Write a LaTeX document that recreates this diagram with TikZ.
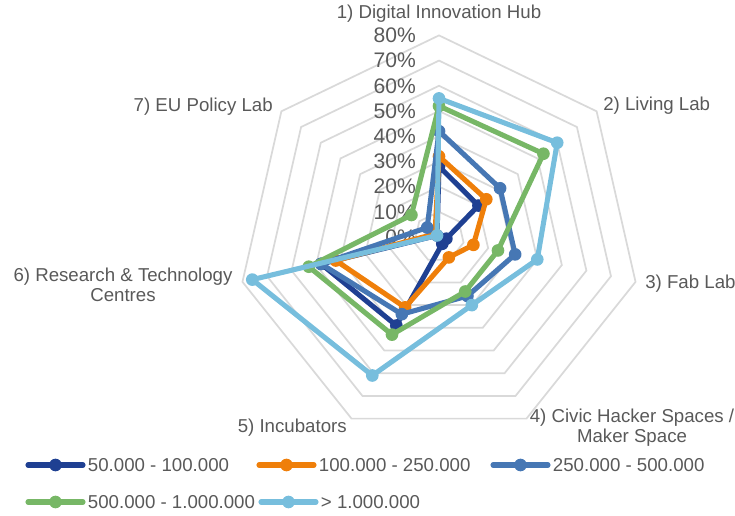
\documentclass[tikz,border=0pt]{standalone}
\usepackage{fontspec}
\setmainfont{Liberation Sans}
\usepackage{xcolor}
\usetikzlibrary{positioning}
\definecolor{gridgray}{RGB}{217,217,217}
\definecolor{txtgray}{RGB}{89,89,89}
\definecolor{serA}{RGB}{31,64,146}
\definecolor{serB}{RGB}{239,127,10}
\definecolor{serC}{RGB}{70,119,180}
\definecolor{serD}{RGB}{119,183,102}
\definecolor{serE}{RGB}{119,190,221}
\tikzset{ring/.style={draw=gridgray,line width=1.3pt},
  series/.style={line width=3.8pt,line join=round,line cap=round},
  dot/.style={circle,fill=#1,inner sep=0pt,minimum size=9.5pt},
  axlabel/.style={text=txtgray,font=\fontsize{14}{15}\selectfont,inner sep=0pt,align=center},
  ticklabel/.style={text=txtgray,font=\fontsize{15.8}{18}\selectfont,inner sep=0pt,anchor=east},
  legtext/.style={text=txtgray,font=\fontsize{14}{16}\selectfont,inner sep=0pt,anchor=west}}

\begin{document}
\begin{tikzpicture}[x=0.75pt,y=0.75pt]
    \useasboundingbox (0,0) rectangle (735,515);

    \begin{scope}[shift={(439,278)}]
    % rings
    \foreach \r in {1,...,8}
        \draw[ring] (90:{\r*25.2}) \foreach \k in {1,...,6}{ -- ({90-\k*360/7}:{\r*25.2}) } -- cycle;

    % scale
    \foreach \t [evaluate=\t as \pc using int(\t*10)] in {0,...,8}
        \node[ticklabel] (tick\t) at (-23,{\t*25.2}) {\pc\%};

    % series
    \foreach \c/\s/\vals in {serA/a/{28,20,3,3,39,48,1},
                             serB/b/{32,24,14,9,31,42,2},
                             serC/c/{42,31,31,26,34,48,6},
                             serD/d/{52,53,24,24,43,53,14},
                             serE/e/{55,60,40,30,61,76,1}}{
        \foreach \v [count=\k] in \vals
            \coordinate (\s\k) at ({90-(\k-1)*360/7}:{\v*2.52});
        \draw[series,\c] (\s1) -- (\s2) -- (\s3) -- (\s4) -- (\s5) -- (\s6) -- (\s7) -- cycle;
        \foreach \k in {1,...,7}
            \node[dot=\c] (m\s\k) at (\s\k) {};
    }
    \end{scope}

    % axis labels
    \node[axlabel] (hub) at (439,501) {1) Digital Innovation Hub};
    \node[axlabel,anchor=west] (living) at (603,409) {2) Living Lab};
    \node[axlabel,anchor=west] (fab) at (645,231) {3) Fab Lab};
    \node[axlabel] (civic) at (632,87) {4) Civic Hacker Spaces /\\Maker Space};
    \node[axlabel,anchor=east] (incub) at (347,87) {5) Incubators};
    \node[axlabel] (rtc) at (123,230) {6) Research \& Technology\\Centres};
    \node[axlabel,anchor=east] (eupol) at (273,408) {7) EU Policy Lab};

    % legend
    \foreach \c/\s/\lx/\ly/\txt in {serA/a/28/50/50.000 - 100.000,
                                    serB/b/259/50/100.000 - 250.000,
                                    serC/c/493/50/250.000 - 500.000,
                                    serD/d/28/13/500.000 - 1.000.000,
                                    serE/e/261/13/> 1.000.000}{
        \coordinate (l\s a) at (\lx,\ly);
        \coordinate (l\s b) at (\lx+55,\ly);
        \draw[series,\c] (l\s a) -- (l\s b);
        \node[dot=\c] (lm\s) at (\lx+27.5,\ly) {};
        \node[legtext,right=3.5pt of l\s b] (lt\s) {\txt};
    }
\end{tikzpicture}
\end{document}
